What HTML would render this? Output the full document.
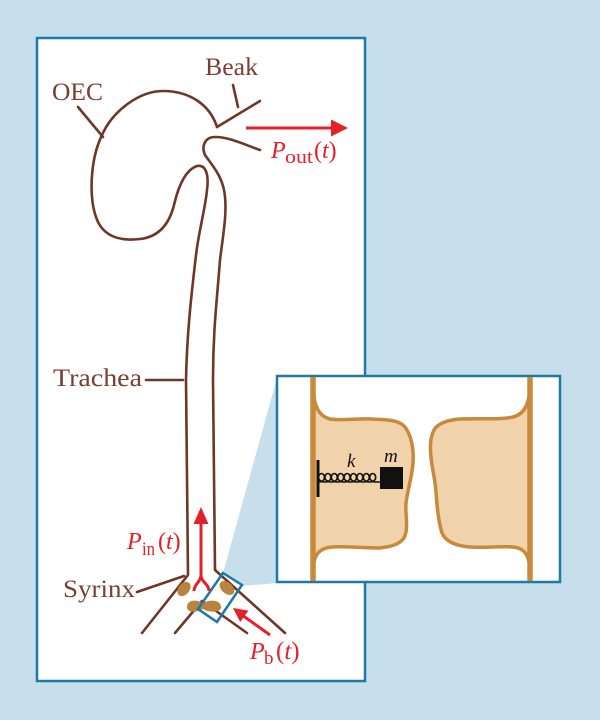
<!DOCTYPE html>
<html>
<head>
<meta charset="utf-8">
<style>
html,body{margin:0;padding:0;background:#c7dfeb;}
svg{display:block;}
text{font-family:"Liberation Serif",serif;}
</style>
</head>
<body>
<svg width="600" height="720" viewBox="0 0 600 720" xmlns="http://www.w3.org/2000/svg">
  <rect x="0" y="0" width="600" height="720" fill="#c7dfeb"/>
  <!-- main frame -->
  <rect x="37" y="38" width="328" height="643" fill="#ffffff" stroke="#1d79a6" stroke-width="2.5"/>

  <!-- zoom shading -->
  <polygon points="223,573 277,378 277,583 242,586" fill="#c7dfeb"/>

  <!-- inset box -->
  <rect x="277" y="376" width="283" height="206" fill="#ffffff" stroke="#1d79a6" stroke-width="2.5"/>

  <!-- inset lobes -->
  <g fill="#f0d3ab" stroke="#c8893c" stroke-width="3.5" stroke-linejoin="round">
    <path d="M313,388 C314,405 318,416 330,419 C345,421 358,418 372,419 C385,420 398,419 405,427 C411,435 414,448 413,463 C412,477 408,488 406,503 C405,515 409,528 404,538 C399,545 390,547 378,548 C360,548 345,546 332,547 C322,548 316,552 314,562 L313,562 Z"/>
    <path d="M530,388 C529,403 525,414 513,417 C500,420 480,418 460,419 C447,420 438,423 434,430 C430,438 430,447 431,457 C432,468 435,478 436,492 C437,505 438,520 442,533 C446,542 456,546 470,547 C485,548 500,546 513,547 C522,548 527,552 529,562 L530,562 Z"/>
  </g>
  <!-- walls -->
  <line x1="313" y1="377" x2="313" y2="581" stroke="#c8893c" stroke-width="5.5"/>
  <line x1="530" y1="377" x2="530" y2="581" stroke="#c8893c" stroke-width="5.5"/>

  <!-- spring & mass -->
  <rect x="316.5" y="460" width="3" height="37" fill="#111"/>
  <path d="M319,482 c 3,0 5.5,-2 5.5,-4.5 c 0,-2.5 -1.5,-4 -3,-4 c -1.5,0 -3,1.5 -3,4 c 0,2.5 2.5,4.5 6.9,4.5
           c 3,0 5.5,-2 5.5,-4.5 c 0,-2.5 -1.5,-4 -3,-4 c -1.5,0 -3,1.5 -3,4 c 0,2.5 2.5,4.5 6.9,4.5
           c 3,0 5.5,-2 5.5,-4.5 c 0,-2.5 -1.5,-4 -3,-4 c -1.5,0 -3,1.5 -3,4 c 0,2.5 2.5,4.5 6.9,4.5
           c 3,0 5.5,-2 5.5,-4.5 c 0,-2.5 -1.5,-4 -3,-4 c -1.5,0 -3,1.5 -3,4 c 0,2.5 2.5,4.5 6.9,4.5
           c 3,0 5.5,-2 5.5,-4.5 c 0,-2.5 -1.5,-4 -3,-4 c -1.5,0 -3,1.5 -3,4 c 0,2.5 2.5,4.5 6.9,4.5
           c 3,0 5.5,-2 5.5,-4.5 c 0,-2.5 -1.5,-4 -3,-4 c -1.5,0 -3,1.5 -3,4 c 0,2.5 2.5,4.5 6.9,4.5
           c 3,0 5.5,-2 5.5,-4.5 c 0,-2.5 -1.5,-4 -3,-4 c -1.5,0 -3,1.5 -3,4 c 0,2.5 2.5,4.5 6.9,4.5
           c 3,0 5.5,-2 5.5,-4.5 c 0,-2.5 -1.5,-4 -3,-4 c -1.5,0 -3,1.5 -3,4 c 0,2.5 2.5,4.5 6.9,4.5
           c 3,0 5.5,-2 5.5,-4.5 c 0,-2.5 -1.5,-4 -3,-4 c -1.5,0 -3,1.5 -3,4 c 0,2.5 2.5,4.5 6.9,4.5
           L381,482" fill="none" stroke="#111" stroke-width="1.6"/>
  <rect x="380" y="467" width="23" height="22" fill="#111"/>
  <text x="347" y="467" font-size="19" font-style="italic" fill="#111">k</text>
  <text x="384" y="462" font-size="19" font-style="italic" fill="#111">m</text>

  <!-- brown anatomy lines -->
  <g fill="none" stroke="#6e3726" stroke-width="2.6" stroke-linecap="round" stroke-linejoin="round">
    <path d="M217,127 C210,105 190,91 163,91 C140,91 113,110 102,135 C90,160 88,200 98,222 C106,238 122,241 140,239 C158,237 169,225 174,205 C178,188 185,170 197,166 C206,164 209,175 207,190 C205,210 199,230 196,255 C192,290 187,330 186,380 L188,575 L142,633"/>
    <path d="M260,150 C245,145 230,137 215,137 C205,137 201,146 205,155 C212,165 221,175 224,190 C228,210 223,235 220,260 C217,300 213,330 213,380 L215,570 L285,633"/>
    <path d="M217,127 L260,101"/>
    <path d="M233,85 L238,107"/>
    <path d="M78,107 L103,137"/>
    <path d="M146,380 L183,380"/>
    <path d="M137,592 L184,576"/>
    <path d="M175,633 L202,601 L247,633"/>
  </g>

  <!-- syrinx blobs -->
  <g fill="#b8843e">
    <ellipse cx="184" cy="589" rx="5.5" ry="8" transform="rotate(38,184,589)"/>
    <ellipse cx="227" cy="588" rx="8.5" ry="5.5" transform="rotate(41,227,588)"/>
    <path d="M187,607 C187,600 196,599 203,603 C210,599 221,600 221,607 C221,613 210,613 203,609 C196,613 187,613 187,607 Z"/>
  </g>

  <!-- small zoom rectangle -->
  <polygon points="223,573 242,585 217,622 198,609" fill="none" stroke="#1d79a6" stroke-width="2.5"/>

  <!-- red arrows -->
  <g stroke="#e4202a" stroke-width="3" fill="none" stroke-linecap="butt">
    <line x1="246" y1="128" x2="334" y2="128"/>
    <line x1="201" y1="521" x2="201" y2="576"/>
    <path d="M201,575 C201,582 194,584 194,591"/>
    <path d="M201,575 C201,582 209,584 209,591"/>
    <line x1="270" y1="635" x2="242" y2="615"/>
  </g>
  <g fill="#e4202a">
    <polygon points="348,128 331,119.5 331,136.5"/>
    <polygon points="201,507 193.5,524 208.5,524"/>
    <polygon points="233,608 248.4,610.6 240.2,622"/>
  </g>

  <!-- labels -->
  <g fill="#7b3f30" font-size="25">
    <text x="52" y="100" textLength="51" lengthAdjust="spacingAndGlyphs">OEC</text>
    <text x="205" y="75" textLength="53" lengthAdjust="spacingAndGlyphs">Beak</text>
    <text x="53" y="386" textLength="89" lengthAdjust="spacingAndGlyphs">Trachea</text>
    <text x="63" y="597" textLength="72" lengthAdjust="spacingAndGlyphs">Syrinx</text>
  </g>

  <g fill="#e4202a">
    <text x="271" y="158" font-size="24" font-style="italic">P</text>
    <text x="285" y="163" font-size="19" textLength="28" lengthAdjust="spacingAndGlyphs">out</text>
    <text x="314" y="158" font-size="24">(<tspan font-style="italic">t</tspan>)</text>

    <text x="127" y="549" font-size="24" font-style="italic">P</text>
    <text x="142" y="555" font-size="19" textLength="13" lengthAdjust="spacingAndGlyphs">in</text>
    <text x="158" y="549" font-size="24">(<tspan font-style="italic">t</tspan>)</text>

    <text x="250" y="659" font-size="24" font-style="italic">P</text>
    <text x="264" y="664" font-size="19">b</text>
    <text x="276" y="659" font-size="25">(<tspan font-style="italic">t</tspan>)</text>
  </g>
</svg>
</body>
</html>
